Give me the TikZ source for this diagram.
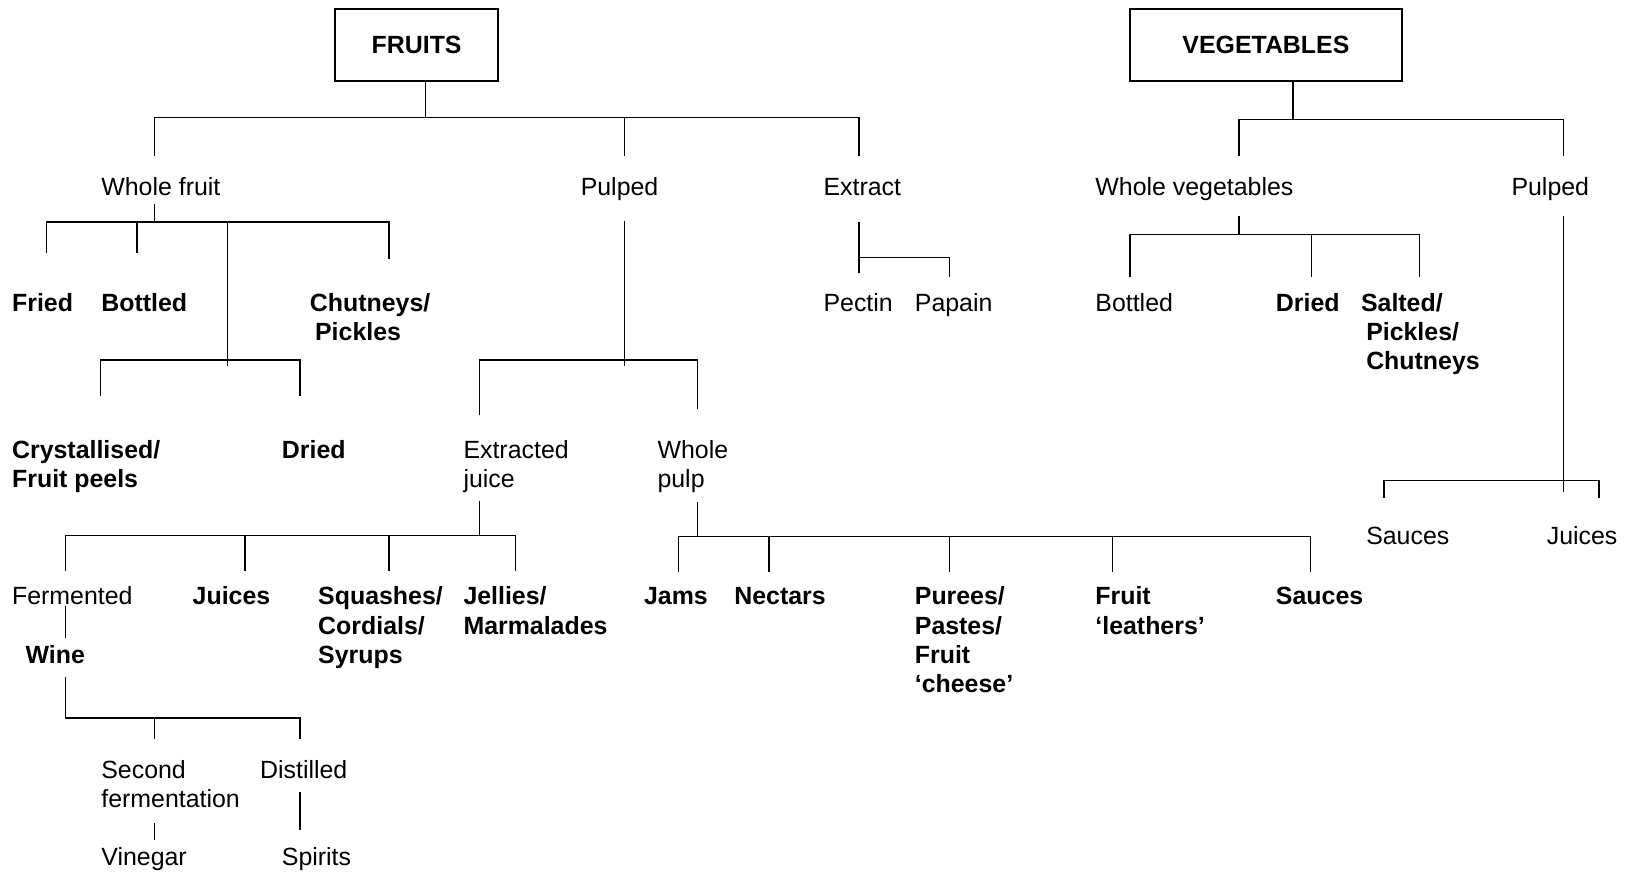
\documentclass[tikz,border=0pt]{standalone}
\usepackage{fontspec}
\setmainfont{Liberation Sans}
\usetikzlibrary{positioning}

\begin{document}
\begin{tikzpicture}[x=0.5pt,y=-0.5pt,line width=0.7pt,
    txt/.style={inner sep=0pt,anchor=base west,align=left,font=\fontsize{12}{14}\selectfont},
    btxt/.style={txt,font=\fontsize{12}{14}\selectfont\bfseries},
    catbox/.style={draw,line width=1pt,inner sep=0pt,minimum height=34.5pt,font=\fontsize{12}{14}\selectfont\bfseries}]
    \useasboundingbox (0,0) rectangle (1568,842);
    % top boxes
    \node[catbox,minimum width=78.5pt] (fruits) at (401.5,43.5) {FRUITS};
    \node[catbox,minimum width=131pt] (veg) at (1220,43.5) {VEGETABLES};
    % fruit labels (multi-line ones placed at their last line)
    \node[txt] (wholefruit) at (97,188) {Whole fruit};
    \node[txt] (pulped) at (559,188) {Pulped};
    \node[txt] (extract) at (793,188) {Extract};
    \node[btxt] (fried) at (11,300) {Fried};
    \node[btxt] (bottled) at (97,300) {Bottled};
    \node[btxt] (chutneys) at (298,328) {Chutneys/\\\hspace*{2.5pt}Pickles};
    \node[txt] (pectin) at (793,300) {Pectin};
    \node[txt] (papain) at (881,300) {Papain};
    \node[btxt] (crystal) at (11,470) {Crystallised/\\Fruit peels};
    \node[btxt] (dried) at (271,442) {Dried};
    \node[txt] (extjuice) at (446,470) {Extracted\\juice};
    \node[txt] (wholepulp) at (633,470) {Whole\\pulp};
    \node[txt] (fermented) at (11,583) {Fermented};
    \node[btxt] (juices) at (185,583) {Juices};
    \node[btxt] (squashes) at (306,639) {Squashes/\\Cordials/\\Syrups};
    \node[btxt] (jellies) at (446,611) {Jellies/\\Marmalades};
    \node[btxt] (wine) at (24,639) {Wine};
    \node[txt] (second) at (97,778) {Second\\fermentation};
    \node[txt] (distilled) at (250,750) {Distilled};
    \node[txt] (vinegar) at (97,834) {Vinegar};
    \node[txt] (spirits) at (271,834) {Spirits};
    \node[btxt] (jams) at (620,583) {Jams};
    \node[btxt] (nectars) at (707,583) {Nectars};
    \node[btxt] (purees) at (881,667) {Purees/\\Pastes/\\Fruit\\‘cheese’};
    \node[btxt] (leathers) at (1055,611) {Fruit\\‘leathers’};
    \node[btxt] (fsauces) at (1229,583) {Sauces};
    % vegetable labels
    \node[txt] (wholeveg) at (1055,188) {Whole vegetables};
    \node[txt] (vpulped) at (1456,188) {Pulped};
    \node[txt] (vbottled) at (1055,300) {Bottled};
    \node[btxt] (vdried) at (1229,300) {Dried};
    \node[btxt] (salted) at (1311,356) {Salted/\\\hspace*{2.5pt}Pickles/\\\hspace*{2.5pt}Chutneys};
    \node[txt] (vsauces) at (1316,525) {Sauces};
    \node[txt] (vjuices) at (1490,525) {Juices};

    % fruits branches
    \coordinate (f-bar) at (410,113);
    \coordinate (wf-in) at (149,150);
    \coordinate (pu-in) at (602,150);
    \coordinate (ex-in) at (828,150);
    \draw (fruits.south -| f-bar) -- (f-bar);
    \draw (wf-in) |- (ex-in |- f-bar) -- (ex-in);
    \draw (pu-in) -- (pu-in |- f-bar);
    % whole fruit
    \coordinate (wf-out) at (149,197);
    \coordinate (wf-bar) at (149,214);
    \coordinate (fried-in) at (45,244);
    \coordinate (bottled-in) at (132,244);
    \coordinate (cand-in) at (219,353);
    \coordinate (chut-in) at (375,250);
    \draw (wf-out) -- (wf-bar);
    \draw (fried-in) |- (chut-in |- wf-bar) -- (chut-in);
    \draw (bottled-in) -- (bottled-in |- wf-bar);
    \draw (cand-in) -- (cand-in |- wf-bar);
    \coordinate (cand-bar) at (219,347);
    \coordinate (crys-in) at (97,382);
    \coordinate (dried-in) at (289,382);
    \draw (crys-in) |- (dried-in |- cand-bar) -- (dried-in);
    % pulped
    \coordinate (pu-out) at (602,213);
    \coordinate (pu-end) at (602,353);
    \coordinate (pu-bar) at (602,347);
    \coordinate (ej-in) at (462,400);
    \coordinate (wp-in) at (672,394);
    \draw (pu-out) -- (pu-end);
    \draw (ej-in) |- (wp-in |- pu-bar) -- (wp-in);
    % extract
    \coordinate (ex-out) at (828,214);
    \coordinate (ex-end) at (828,263);
    \coordinate (ex-bar) at (828,248);
    \coordinate (papain-in) at (915,267);
    \draw (ex-out) -- (ex-end);
    \draw (ex-bar) -| (papain-in);
    % extracted juice
    \coordinate (ej-out) at (462,483);
    \coordinate (ej-bar) at (462,516);
    \coordinate (ferm-in) at (63,550);
    \coordinate (juices-in) at (236,550);
    \coordinate (squash-in) at (375,550);
    \coordinate (jelly-in) at (497,550);
    \draw (ej-out) -- (ej-bar);
    \draw (ferm-in) |- (jelly-in |- ej-bar) -- (jelly-in);
    \foreach \c in {juices-in,squash-in} \draw (\c) -- (\c |- ej-bar);
    \coordinate (ferm-out) at (63,584);
    \coordinate (wine-in) at (63,615);
    \draw (ferm-out) -- (wine-in);
    % wine
    \coordinate (wine-out) at (63,652);
    \coordinate (wine-bar) at (63,692);
    \coordinate (second-in) at (149,712);
    \coordinate (dist-in) at (289,712);
    \draw (wine-out) -- (wine-bar) -| (dist-in);
    \draw (second-in) -- (second-in |- wine-bar);
    \coordinate (second-out) at (149,793);
    \coordinate (vinegar-in) at (149,810);
    \coordinate (dist-out) at (289,763);
    \coordinate (spirits-in) at (289,800);
    \draw (second-out) -- (vinegar-in);
    \draw (dist-out) -- (spirits-in);
    % whole pulp
    \coordinate (wp-out) at (672,484);
    \coordinate (wp-bar) at (672,517);
    \coordinate (jams-in) at (654,551);
    \coordinate (nectars-in) at (741,551);
    \coordinate (purees-in) at (915,551);
    \coordinate (leathers-in) at (1072,551);
    \coordinate (fsauces-in) at (1263,551);
    \draw (wp-out) -- (wp-bar);
    \draw (jams-in) |- (fsauces-in |- wp-bar) -- (fsauces-in);
    \foreach \c in {nectars-in,purees-in,leathers-in} \draw (\c) -- (\c |- wp-bar);

    % vegetables branches
    \coordinate (v-bar) at (1246,115);
    \coordinate (wv-in) at (1194,150);
    \coordinate (vp-in) at (1507,150);
    \draw (veg.south -| v-bar) -- (v-bar);
    \draw (wv-in) |- (vp-in |- v-bar) -- (vp-in);
    \coordinate (wv-out) at (1194,208);
    \coordinate (wv-bar) at (1194,226);
    \coordinate (vbot-in) at (1089,267);
    \coordinate (vdried-in) at (1264,267);
    \coordinate (salted-in) at (1368,267);
    \draw (wv-out) -- (wv-bar);
    \draw (vbot-in) |- (salted-in |- wv-bar) -- (salted-in);
    \draw (vdried-in) -- (vdried-in |- wv-bar);
    \coordinate (vp-out) at (1507,208);
    \coordinate (vp-end) at (1507,474);
    \coordinate (vp-bar) at (1507,463);
    \coordinate (vsauce-in) at (1334,480);
    \coordinate (vjuice-in) at (1541,480);
    \draw (vp-out) -- (vp-end);
    \draw (vsauce-in) |- (vjuice-in |- vp-bar) -- (vjuice-in);
\end{tikzpicture}
\end{document}
